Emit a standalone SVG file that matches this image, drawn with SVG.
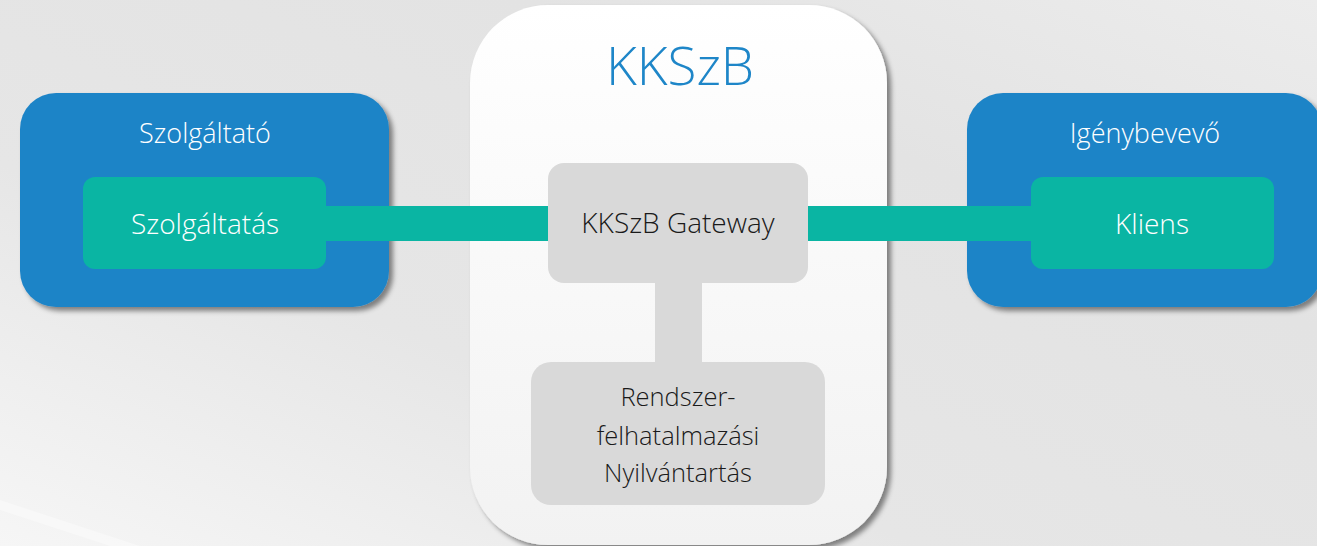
<svg xmlns="http://www.w3.org/2000/svg" width="1317" height="546" viewBox="0 0 1317 546">
  <defs>
    <linearGradient id="bg" x1="0" y1="1" x2="1" y2="0">
      <stop offset="0" stop-color="#f6f6f6"/>
      <stop offset="0.35" stop-color="#e6e6e6"/>
      <stop offset="0.7" stop-color="#e3e3e3"/>
      <stop offset="1" stop-color="#ececec"/>
    </linearGradient>
    <linearGradient id="white" x1="0" y1="0" x2="0" y2="1">
      <stop offset="0" stop-color="#ffffff"/>
      <stop offset="1" stop-color="#f2f2f2"/>
    </linearGradient>
    <filter id="shadow" x="-10%" y="-10%" width="125%" height="125%">
      <feDropShadow dx="4" dy="4" stdDeviation="2.5" flood-color="#000" flood-opacity="0.45"/>
    </filter>
    <style>
      .blue { fill: #1e84c7; filter: url(#shadow); }
      .teal { fill: #0ab5a3; }
      .gray { fill: #d9d9d9; }
      .t { font-family: "Open Sans", "Noto Sans", "DejaVu Sans", sans-serif; text-anchor: middle; font-weight: 300; }
      .hdr { fill: #ffffff; font-size: 27px; }
      .inner { fill: #ffffff; font-size: 28px; }
      .gw { fill: #1a1a1a; font-size: 28px; }
      .dark { fill: #1a1a1a; font-size: 25.5px; }
    </style>
  </defs>
  <rect x="0" y="0" width="1317" height="546" fill="url(#bg)"/>
  <path d="M0 500 L140 546 L110 546 L0 510 Z" fill="#ffffff" opacity="0.35"/>

  <g id="kkszb">
    <rect x="470" y="5" width="417" height="540" rx="78" ry="78" fill="url(#white)" filter="url(#shadow)"/>
    <text x="680" y="85" class="t" font-size="53" font-weight="400" fill="#1e86c8">KKSzB</text>
  </g>

  <g id="szolgaltato">
    <rect x="20" y="93" width="369" height="214" rx="36" class="blue"/>
    <text x="205" y="143" class="t hdr">Szolgáltató</text>
  </g>

  <g id="igenybevevo">
    <rect x="967" y="93" width="355" height="214" rx="36" class="blue"/>
    <text x="1145" y="143" class="t hdr">Igénybevevő</text>
  </g>

  <g id="connectors">
    <rect x="320" y="206" width="234" height="35" class="teal"/>
    <rect x="802" y="206" width="235" height="35" class="teal"/>
    <rect x="655" y="278" width="47" height="88" class="gray"/>
  </g>

  <g id="szolgaltatas">
    <rect x="83" y="177" width="243" height="92" rx="12" class="teal"/>
    <text x="205" y="234" class="t inner">Szolgáltatás</text>
  </g>

  <g id="kliens">
    <rect x="1031" y="177" width="243" height="92" rx="12" class="teal"/>
    <text x="1152" y="234" class="t inner">Kliens</text>
  </g>

  <g id="gateway">
    <rect x="548" y="163" width="260" height="120" rx="16" class="gray"/>
    <text x="678" y="233" class="t gw">KKSzB Gateway</text>
  </g>

  <g id="nyilvantartas">
    <rect x="531" y="362" width="294" height="143" rx="20" class="gray"/>
    <text x="678" y="406" class="t dark">Rendszer-</text>
    <text x="678" y="445" class="t dark">felhatalmazási</text>
    <text x="678" y="482" class="t dark">Nyilvántartás</text>
  </g>
</svg>
